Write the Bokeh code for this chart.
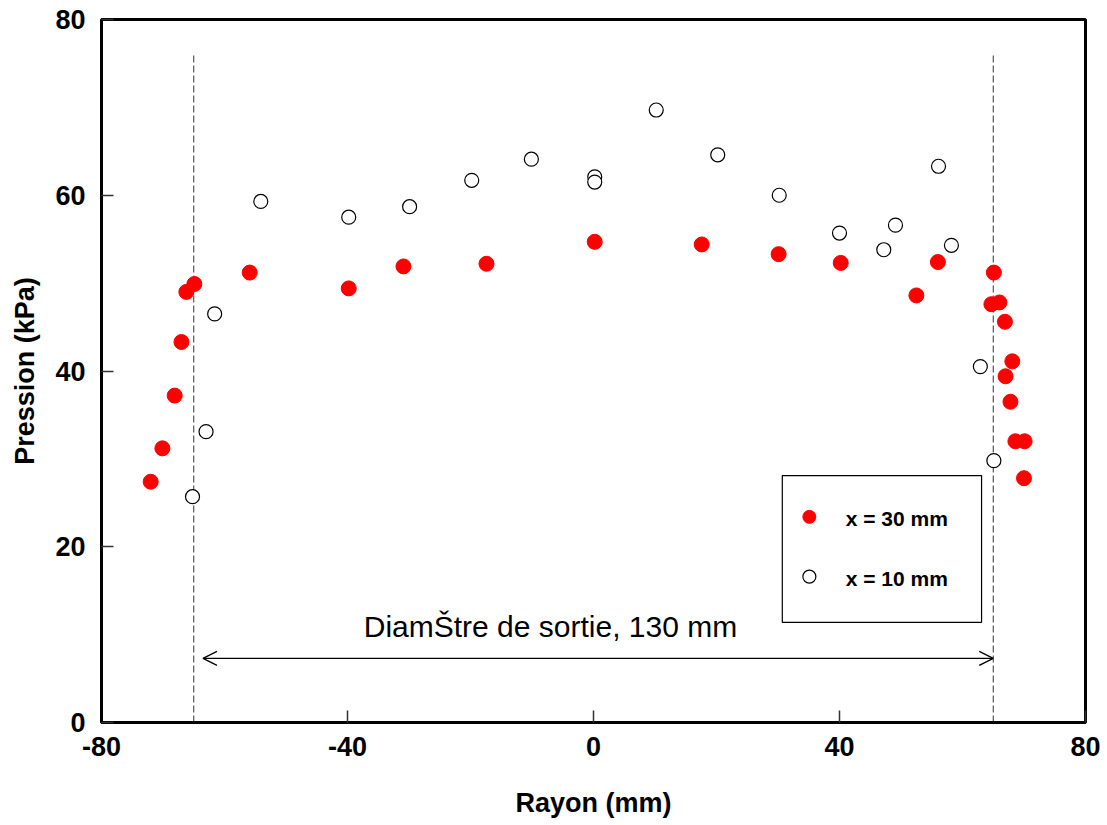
from bokeh.plotting import figure
from bokeh.models import Range1d, FixedTicker, Arrow, OpenHead, Label, CustomJSTickFormatter
from bokeh.core.properties import value
from bokeh.embed import file_html
from bokeh.resources import INLINE

# x = 30 mm series (filled red)
r30 = [-72.0, -70.1, -68.1, -67.0, -66.2, -64.9, -55.9, -39.8, -30.9, -17.4, 0.2, 17.6, 30.1,
       40.2, 52.5, 56.0, 65.1, 64.7, 66.0, 66.9, 68.1, 67.0, 67.8, 68.6, 70.1, 70.0]
p30 = [27.4, 31.2, 37.2, 43.3, 49.0, 49.9, 51.2, 49.4, 51.9, 52.2, 54.7, 54.4, 53.3,
       52.3, 48.6, 52.4, 51.2, 47.6, 47.8, 45.6, 41.1, 39.4, 36.5, 32.0, 32.0, 27.8]

# x = 10 mm series (open circles)
r10 = [-65.2, -63.0, -61.6, -54.1, -39.8, -29.9, -19.8, -10.1, 0.2, 0.2, 10.2, 20.2, 30.2,
       40.0, 47.2, 49.1, 56.1, 58.2, 62.9, 65.1]
p10 = [25.7, 33.1, 46.5, 59.3, 57.5, 58.7, 61.7, 64.1, 62.1, 61.5, 69.7, 64.6, 60.0,
       55.7, 53.8, 56.6, 63.3, 54.3, 40.5, 29.8]

x_ticks = [-80, -40, 0, 40, 80]
y_ticks = [0, 20, 40, 60, 80]
nozzle_edges = [-65, 65]
legend_labels = ["x = 30 mm", "x = 10 mm"]
annotation_text = "DiamŠtre de sortie, 130 mm"

FONT = "Liberation Sans"

p = figure(frame_width=984, frame_height=703, output_backend="svg", toolbar_location=None,
           x_range=Range1d(-80, 80), y_range=Range1d(0, 80),
           min_border_left=101, min_border_right=16, min_border_top=19, min_border_bottom=95)
p.background_fill_color = "white"
p.border_fill_color = "white"
p.grid.visible = False
p.outline_line_color = "black"
p.outline_line_width = 3

fmt = CustomJSTickFormatter(code="return tick.toString();")
for ax in (p.xaxis[0], p.yaxis[0]):
    ax.formatter = fmt
    ax.axis_line_width = 3
    ax.axis_line_color = "black"
    ax.major_tick_in = 12
    ax.major_tick_out = 0
    ax.major_tick_line_color = "#333333"
    ax.major_tick_line_width = 1.5
    ax.minor_tick_line_color = None
    ax.major_label_text_font = FONT
    ax.major_label_text_font_style = "bold"
    ax.major_label_text_font_size = "27px"
    ax.major_label_text_color = "black"
    ax.axis_label_text_font = FONT
    ax.axis_label_text_font_style = "bold"
    ax.axis_label_text_font_size = "27px"
    ax.axis_label_text_color = "black"

p.xaxis.ticker = FixedTicker(ticks=x_ticks)
p.yaxis.ticker = FixedTicker(ticks=y_ticks)
p.xaxis.axis_label = "Rayon (mm)"
p.yaxis.axis_label = "Pression (kPa)"
p.xaxis.major_label_standoff = 14
p.yaxis.major_label_standoff = 16
p.xaxis.axis_label_standoff = 29
p.yaxis.axis_label_standoff = 12

# dashed nozzle edge lines
for xe in nozzle_edges:
    p.segment(x0=[xe], y0=[0], x1=[xe], y1=[76], line_color="#333333", line_width=1,
              line_dash="7 3")

# legend box (glyph level, under legend keys)
p.quad(left=[30.7], right=[63.1], bottom=[11.4], top=[28.1],
       fill_color="white", line_color="black", line_width=1.2)

# data
p.scatter(r30, p30, size=15, marker="circle", fill_color="#FF0000", line_color="#FF0000")
p.scatter(r10, p10, size=14, marker="circle", fill_color="white", line_color="black",
          line_width=1.2)

# double arrow
p.add_layout(Arrow(start=OpenHead(size=14, line_width=1.3), end=OpenHead(size=14, line_width=1.3),
                   x_start=-63.5, y_start=7.3, x_end=65, y_end=7.3,
                   line_width=1.3, line_color="black"))
p.add_layout(Label(x=-7, y=10.9, text=annotation_text, text_font=FONT, text_font_size="30px",
                   text_align="center", text_baseline="middle", text_color="black"))

# legend keys and labels
p.scatter([35.1], [23.4], size=13, marker="circle", fill_color="#FF0000", line_color="#FF0000")
p.scatter([35.1], [16.6], size=13, marker="circle", fill_color="white", line_color="black",
          line_width=1.2)
p.text(x=[41.0, 41.0], y=[23.2, 16.4], text=legend_labels, text_font=value(FONT),
       text_font_style="bold", text_font_size="21px", text_baseline="middle",
       text_color="black")

open("out.html", "w").write(file_html(p, INLINE))
